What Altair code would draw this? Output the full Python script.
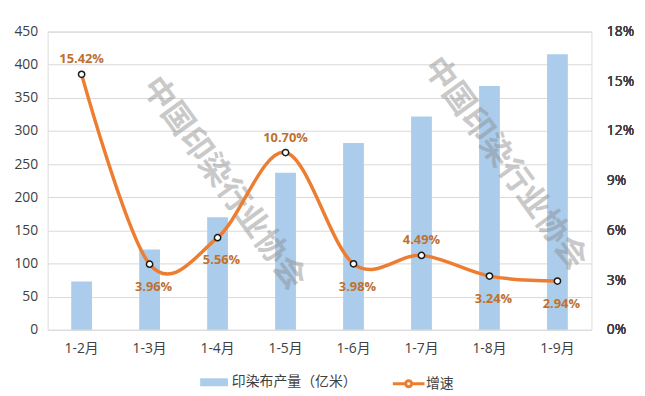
import altair as alt
import pandas as pd

months = ["1-2月", "1-3月", "1-4月", "1-5月", "1-6月", "1-7月", "1-8月", "1-9月"]
output = [73, 121, 170, 237, 282, 322, 368, 416]
growth = [15.42, 3.96, 5.56, 10.70, 3.98, 4.49, 3.24, 2.94]
label_pos = ["above", "below", "below", "above", "below", "above", "below", "below"]
bar_name = "印染布产量（亿米）"
line_name = "增速"
watermark = "中国印染行业协会"

df = pd.DataFrame({
    "month": months,
    "output": output,
    "growth": growth,
    "pos": label_pos,
    "bs": [bar_name] * len(months),
    "ls": [line_name] * len(months),
})
df["label"] = [f"{g:.2f}%" for g in growth]

FONT = "'Open Sans', 'Noto Sans CJK SC', sans-serif"
TXT = "#404040"

x = alt.X("month:N", sort=months, title=None,
          axis=alt.Axis(labelAngle=0, ticks=False, domain=False, grid=False,
                        labelPadding=12, labelFontSize=14, labelColor=TXT))

base = alt.Chart(df)

bars = base.mark_bar(size=21).encode(
    x=x,
    y=alt.Y("output:Q", title=None,
            scale=alt.Scale(domain=[0, 450]),
            axis=alt.Axis(values=list(range(0, 451, 50)), ticks=False, domain=False,
                          grid=True, gridColor="#d9d9d9", labelPadding=10,
                          labelFontSize=14, labelColor=TXT)),
    fill=alt.Fill("bs:N", scale=alt.Scale(domain=[bar_name], range=["#abcdeb"]),
                  legend=alt.Legend(title=None, orient="none", legendX=158, legendY=344,
                                    symbolType="M-1.4,-0.4H1.4V0.4H-1.4Z", symbolSize=400,
                                    symbolStrokeWidth=0, labelFontSize=14, labelColor=TXT,
                                    labelFont=FONT, labelOffset=8)),
)

yr = alt.Y("growth:Q", title=None, scale=alt.Scale(domain=[0, 18]),
           axis=alt.Axis(orient="right", values=list(range(0, 19, 3)), ticks=False,
                         domain=False, grid=False, labelPadding=15, labelFontSize=14,
                         labelColor=TXT, labelExpr="datum.value + '%'"))

line = base.mark_line(interpolate="cardinal", strokeWidth=3.5, color="#ed7d31").encode(
    x=x, y=yr,
    stroke=alt.Stroke("ls:N", scale=alt.Scale(domain=[line_name], range=["#ed7d31"]),
                      legend=alt.Legend(title=None, orient="none", legendX=353, legendY=344,
                                        symbolType="M-1.6,0H-0.3M0.3,0H1.6M-0.3,0A0.3,0.3 0 1,1 0.3,0A0.3,0.3 0 1,1 -0.3,0",
                                        symbolSize=400, symbolStrokeWidth=3,
                                        symbolFillColor="white",
                                        labelFontSize=14, labelColor=TXT, labelFont=FONT,
                                        labelOffset=6)),
)

pts = base.mark_point(filled=True, fill="white", stroke="#1a1a1a", strokeWidth=1.5,
                      size=40, opacity=1).encode(x=x, y=yr)

lab_above = base.transform_filter("datum.pos == 'above'").mark_text(
    dy=-15, fontSize=13, fontWeight="bold", color="#c0712e", font=FONT
).encode(x=x, y=yr, text="label:N")

lab_below = base.transform_filter("datum.pos == 'below'").mark_text(
    dy=23, dx=4, fontSize=13, fontWeight="bold", color="#c0712e", font=FONT
).encode(x=x, y=yr, text="label:N")

wm_df = pd.DataFrame({"t": [watermark, watermark], "px": [178, 462], "py": [153, 133]})
wm = alt.Chart(wm_df).mark_text(
    angle=54, fontSize=32, fontWeight="bold", color="#8a8a8a", opacity=0.45,
    align="center", baseline="middle", font="'Noto Sans CJK SC'"
).encode(
    x=alt.X("px:Q", scale=None), y=alt.Y("py:Q", scale=None), text="t:N"
)

chart = alt.layer(bars, wm, line, pts, lab_above, lab_below).resolve_scale(
    y="independent", fill="independent", stroke="independent"
).properties(
    width=549, height=301,
    autosize=alt.AutoSizeParams(type="none"),
    padding={"left": 40, "top": 22, "right": 46, "bottom": 62},
).configure_view(stroke=None).configure(font=FONT)

chart.save("out.html", embed_options={"renderer": "svg", "actions": False})
